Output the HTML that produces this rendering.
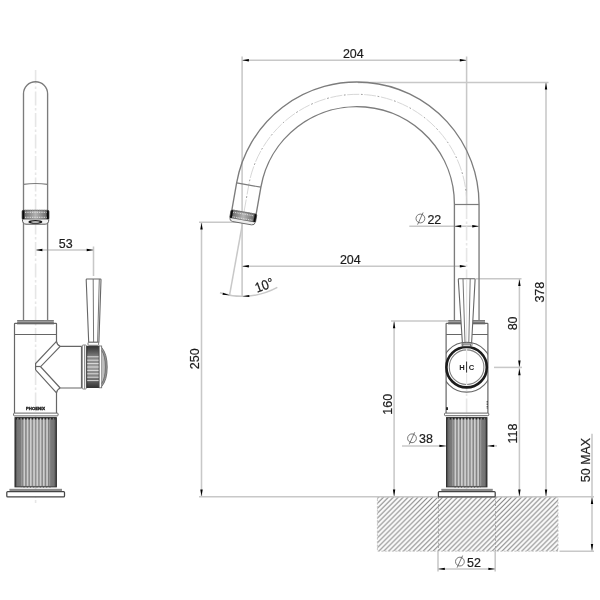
<!DOCTYPE html>
<html><head><meta charset="utf-8"><title>Mixer dimensions</title>
<style>
html,body{margin:0;padding:0;background:#fff;}
body{width:600px;height:600px;overflow:hidden;font-family:"Liberation Sans",sans-serif;}
svg{display:block;will-change:transform;filter:grayscale(1);}
svg text{font-family:"Liberation Sans",sans-serif;opacity:0.99;}
</style></head><body>
<svg width="600" height="600" viewBox="0 0 600 600">
<rect width="600" height="600" fill="#fff"/>
<g>
<line x1="35.60" y1="250.00" x2="93.50" y2="250.00" stroke="#c8c8c8" stroke-width="1.55" />
<line x1="93.50" y1="246.50" x2="93.50" y2="276.00" stroke="#c8c8c8" stroke-width="1.55" />
<polygon points="35.60,250.00 42.40,248.80 42.40,251.20" fill="#000"/>
<polygon points="93.50,250.00 86.70,248.80 86.70,251.20" fill="#000"/>
<text x="0" y="0" font-size="13.7" text-anchor="middle" font-weight="normal" fill="#1a1a1a" transform="translate(65.70 248.00) scale(0.91 1)" stroke="#1a1a1a" stroke-width="0.22">53</text>
<line x1="242.10" y1="60.20" x2="466.60" y2="60.20" stroke="#c8c8c8" stroke-width="1.55" />
<line x1="242.10" y1="56.50" x2="242.10" y2="296.80" stroke="#c8c8c8" stroke-width="1.55" />
<line x1="466.60" y1="56.50" x2="466.60" y2="205.00" stroke="#c8c8c8" stroke-width="1.55" />
<polygon points="242.10,60.20 248.90,59.00 248.90,61.40" fill="#000"/>
<polygon points="466.60,60.20 459.80,59.00 459.80,61.40" fill="#000"/>
<text x="0" y="0" font-size="13.7" text-anchor="middle" font-weight="normal" fill="#1a1a1a" transform="translate(353.30 58.00) scale(0.91 1)" stroke="#1a1a1a" stroke-width="0.22">204</text>
<line x1="242.10" y1="266.20" x2="466.60" y2="266.20" stroke="#c8c8c8" stroke-width="1.55" />
<polygon points="242.10,266.20 248.90,265.00 248.90,267.40" fill="#000"/>
<polygon points="466.60,266.20 459.80,265.00 459.80,267.40" fill="#000"/>
<text x="0" y="0" font-size="13.7" text-anchor="middle" font-weight="normal" fill="#1a1a1a" transform="translate(350.30 264.20) scale(0.91 1)" stroke="#1a1a1a" stroke-width="0.22">204</text>
<line x1="358.00" y1="82.40" x2="548.50" y2="82.40" stroke="#c8c8c8" stroke-width="1.55" />
<line x1="546.00" y1="82.40" x2="546.00" y2="496.80" stroke="#c8c8c8" stroke-width="1.55" />
<polygon points="546.00,82.80 544.80,89.60 547.20,89.60" fill="#000"/>
<polygon points="546.00,496.30 544.80,489.50 547.20,489.50" fill="#000"/>
<text x="0" y="0" font-size="13.7" text-anchor="middle" font-weight="normal" fill="#1a1a1a" transform="translate(543.70 292.20) rotate(-90) scale(0.91 1)" stroke="#1a1a1a" stroke-width="0.22">378</text>
<line x1="199.00" y1="222.30" x2="242.10" y2="222.30" stroke="#c8c8c8" stroke-width="1.55" />
<line x1="201.50" y1="222.30" x2="201.50" y2="496.80" stroke="#c8c8c8" stroke-width="1.55" />
<polygon points="201.50,222.80 200.30,229.60 202.70,229.60" fill="#000"/>
<polygon points="201.50,496.30 200.30,489.50 202.70,489.50" fill="#000"/>
<text x="0" y="0" font-size="13.7" text-anchor="middle" font-weight="normal" fill="#1a1a1a" transform="translate(199.20 358.80) rotate(-90) scale(0.91 1)" stroke="#1a1a1a" stroke-width="0.22">250</text>
<line x1="242.50" y1="223.30" x2="229.57" y2="295.15" stroke="#c8c8c8" stroke-width="1.5"/>
<path d="M219.94,292.73 A73,73 0 0 0 277.33,287.45" stroke="#c8c8c8" stroke-width="1.5" fill="none" />
<polygon points="0,0 -7,-1.05 -7,1.05" fill="#000" transform="translate(229.57 295.15) rotate(12)"/>
<polygon points="0,0 6.8,-1.05 6.8,1.05" fill="#000" transform="translate(242.50 296.30) rotate(-3)"/>
<text x="0" y="0" font-size="13.7" text-anchor="middle" font-weight="normal" fill="#1a1a1a" transform="translate(265.90 289.60) rotate(-20) scale(0.91 1)" stroke="#1a1a1a" stroke-width="0.22">10°</text>
<line x1="409.30" y1="226.20" x2="479.05" y2="226.20" stroke="#c8c8c8" stroke-width="1.55" />
<polygon points="454.41,226.20 461.21,225.00 461.21,227.40" fill="#000"/>
<polygon points="479.05,226.20 472.25,225.00 472.25,227.40" fill="#000"/>
<circle cx="420.40" cy="218.50" r="4.4" stroke="#555" stroke-width="0.8" fill="none"/>
<line x1="417.60" y1="224.60" x2="423.10" y2="212.50" stroke="#555" stroke-width="0.8"/>
<text x="0" y="0" font-size="13.7" text-anchor="middle" font-weight="normal" fill="#1a1a1a" transform="translate(434.30 223.60) scale(0.91 1)" stroke="#1a1a1a" stroke-width="0.22">22</text>
<line x1="475.80" y1="278.70" x2="521.50" y2="278.70" stroke="#c8c8c8" stroke-width="1.55" />
<line x1="519.40" y1="278.70" x2="519.40" y2="496.80" stroke="#c8c8c8" stroke-width="1.55" />
<polygon points="519.40,279.20 518.20,286.00 520.60,286.00" fill="#000"/>
<polygon points="519.40,367.40 518.20,360.60 520.60,360.60" fill="#000"/>
<polygon points="519.40,368.40 518.20,375.20 520.60,375.20" fill="#000"/>
<polygon points="519.40,496.30 518.20,489.50 520.60,489.50" fill="#000"/>
<line x1="494.00" y1="367.40" x2="522.00" y2="367.40" stroke="#c8c8c8" stroke-width="1.55" />
<text x="0" y="0" font-size="13.7" text-anchor="middle" font-weight="normal" fill="#1a1a1a" transform="translate(517.00 323.40) rotate(-90) scale(0.91 1)" stroke="#1a1a1a" stroke-width="0.22">80</text>
<text x="0" y="0" font-size="13.7" text-anchor="middle" font-weight="normal" fill="#1a1a1a" transform="translate(516.80 433.60) rotate(-90) scale(0.91 1)" stroke="#1a1a1a" stroke-width="0.22">118</text>
<line x1="391.00" y1="321.00" x2="448.30" y2="321.00" stroke="#c8c8c8" stroke-width="1.55" />
<line x1="394.10" y1="321.00" x2="394.10" y2="496.80" stroke="#c8c8c8" stroke-width="1.55" />
<polygon points="394.10,321.50 392.90,328.30 395.30,328.30" fill="#000"/>
<polygon points="394.10,496.30 392.90,489.50 395.30,489.50" fill="#000"/>
<text x="0" y="0" font-size="13.7" text-anchor="middle" font-weight="normal" fill="#1a1a1a" transform="translate(391.80 404.30) rotate(-90) scale(0.91 1)" stroke="#1a1a1a" stroke-width="0.22">160</text>
<line x1="402.00" y1="445.90" x2="446.20" y2="445.90" stroke="#c8c8c8" stroke-width="1.55" />
<line x1="487.40" y1="445.90" x2="497.00" y2="445.90" stroke="#c8c8c8" stroke-width="1.55" />
<polygon points="446.20,445.90 439.40,444.70 439.40,447.10" fill="#000"/>
<polygon points="487.40,445.90 494.20,444.70 494.20,447.10" fill="#000"/>
<line x1="446.2" y1="446.5" x2="487.4" y2="446.5" stroke="#444" stroke-width="1" opacity="0.35"/>
<circle cx="412.00" cy="438.30" r="4.4" stroke="#555" stroke-width="0.8" fill="none"/>
<line x1="409.20" y1="444.40" x2="414.70" y2="432.30" stroke="#555" stroke-width="0.8"/>
<text x="0" y="0" font-size="13.7" text-anchor="middle" font-weight="normal" fill="#1a1a1a" transform="translate(426.00 443.30) scale(0.91 1)" stroke="#1a1a1a" stroke-width="0.22">38</text>
<rect x="377.40" y="497.00" width="180.60" height="54.20" stroke="#bbb" stroke-width="0.8" fill="url(#hatch)" stroke-dasharray="2 1.5"/>
<line x1="199.00" y1="496.80" x2="594.00" y2="496.80" stroke="#c8c8c8" stroke-width="1.55" />
<line x1="559.50" y1="551.20" x2="594.00" y2="551.20" stroke="#c8c8c8" stroke-width="1.55" />
<line x1="438.50" y1="497.00" x2="438.50" y2="551.00" stroke="#999" stroke-width="0.8" stroke-dasharray="2 1.5"/>
<line x1="495.50" y1="497.00" x2="495.50" y2="551.00" stroke="#999" stroke-width="0.8" stroke-dasharray="2 1.5"/>
<line x1="438.00" y1="551.00" x2="438.00" y2="571.50" stroke="#c8c8c8" stroke-width="1.55" />
<line x1="495.20" y1="551.00" x2="495.20" y2="571.50" stroke="#c8c8c8" stroke-width="1.55" />
<line x1="438.00" y1="568.90" x2="495.20" y2="568.90" stroke="#c8c8c8" stroke-width="1.55" />
<polygon points="438.00,568.90 444.80,567.70 444.80,570.10" fill="#000"/>
<polygon points="495.20,568.90 488.40,567.70 488.40,570.10" fill="#000"/>
<circle cx="459.90" cy="561.60" r="4.4" stroke="#555" stroke-width="0.8" fill="none"/>
<line x1="457.10" y1="567.70" x2="462.60" y2="555.60" stroke="#555" stroke-width="0.8"/>
<text x="0" y="0" font-size="13.7" text-anchor="middle" font-weight="normal" fill="#1a1a1a" transform="translate(474.00 566.80) scale(0.91 1)" stroke="#1a1a1a" stroke-width="0.22">52</text>
<line x1="592.00" y1="433.80" x2="592.00" y2="551.20" stroke="#c8c8c8" stroke-width="1.55" />
<polygon points="592.00,497.30 590.80,504.10 593.20,504.10" fill="#000"/>
<polygon points="592.00,550.70 590.80,543.90 593.20,543.90" fill="#000"/>
<text x="0" y="0" font-size="13.7" text-anchor="middle" font-weight="normal" fill="#1a1a1a" transform="translate(589.60 460.00) rotate(-90) scale(0.91 1)" stroke="#1a1a1a" stroke-width="0.22">50 MAX</text>
<defs>
<linearGradient id="aer" x1="0" x2="1" y1="0" y2="0"><stop offset="0" stop-color="#0a0a0a"/><stop offset="0.06" stop-color="#0a0a0a"/><stop offset="0.11" stop-color="#727272"/><stop offset="0.5" stop-color="#b2b2b2"/><stop offset="0.89" stop-color="#727272"/><stop offset="0.94" stop-color="#0a0a0a"/><stop offset="1" stop-color="#0a0a0a"/></linearGradient>
<linearGradient id="kn" x1="0" x2="0" y1="0" y2="1"><stop offset="0" stop-color="#333"/><stop offset="0.12" stop-color="#555"/><stop offset="0.25" stop-color="#808080"/><stop offset="0.5" stop-color="#9c9c9c"/><stop offset="0.75" stop-color="#808080"/><stop offset="0.88" stop-color="#555"/><stop offset="1" stop-color="#333"/></linearGradient>
<linearGradient id="fl" x1="0" x2="1" y1="0" y2="0"><stop offset="0" stop-color="#2a2a2a"/><stop offset="0.03" stop-color="#5a5a5a"/><stop offset="0.06" stop-color="#747474"/><stop offset="0.2" stop-color="#808080"/><stop offset="0.5" stop-color="#909090"/><stop offset="0.8" stop-color="#808080"/><stop offset="0.94" stop-color="#747474"/><stop offset="0.97" stop-color="#5a5a5a"/><stop offset="1" stop-color="#2a2a2a"/></linearGradient>
<pattern id="hatch" patternUnits="userSpaceOnUse" width="4.93" height="4.93" patternTransform="translate(378.75 497)"><path d="M-1,1 L1,-1 M-1,5.93 L5.93,-1 M3.93,5.93 L5.93,3.93" stroke="#808080" stroke-width="1.05"/></pattern>
<clipPath id="bodyclip"><rect x="446.1" y="323" width="41.8" height="90"/></clipPath>
</defs>
<line x1="35.60" y1="70.00" x2="35.60" y2="503.00" stroke="#e6e6e6" stroke-width="1.6" stroke-dasharray="14 2.5 2.5 2.5"/>
<path d="M23.5,320.6 L23.5,93.75 A12.05,12.05 0 0 1 47.6,93.75 L47.6,320.6" stroke="#7c7c7c" stroke-width="1.35" fill="none" />
<path d="M23.5,184.4 Q35.6,182.6 47.6,184.4" stroke="#7c7c7c" stroke-width="1.1" fill="none" />
<rect x="22.10" y="210.30" width="26.90" height="9.10" stroke="#3a3a3a" stroke-width="0.7" fill="url(#aer)" rx="1.2"/>
<line x1="25" y1="210.2" x2="46.5" y2="210.2" stroke="#999" stroke-width="1.1" stroke-dasharray="0.8 0.95"/>
<line x1="25" y1="212.4" x2="46.5" y2="212.4" stroke="#e4e4e4" stroke-width="1.2" stroke-dasharray="0.8 0.95"/>
<line x1="25" y1="217.3" x2="46.5" y2="217.3" stroke="#e4e4e4" stroke-width="1.2" stroke-dasharray="0.8 0.95"/>
<path d="M22.4,219.4 Q22.4,224 26,224.2 L45.2,224.2 Q48.8,224 48.8,219.4" stroke="#444" stroke-width="0.9" fill="#f2f2f2" />
<ellipse cx="35.4" cy="221.9" rx="7" ry="1.9" fill="#1a1a1a"/>
<ellipse cx="35.4" cy="221.9" rx="4.4" ry="0.75" fill="#e8e8e8"/>
<rect x="17.2" y="320.6" width="36.599999999999994" height="2.7999999999999545" fill="#9c9c9c"/>
<line x1="17.20" y1="320.50" x2="53.80" y2="320.50" stroke="#7a7a7a" stroke-width="1" />
<line x1="16.90" y1="323.50" x2="54.10" y2="323.50" stroke="#3a3a3a" stroke-width="1.3" />
<path d="M14.5,413 L14.5,324 Q14.5,323.4 15.1,323.4 L55.9,323.4 Q56.5,323.4 56.5,324 L56.5,341.4 Q57,344.8 60.2,346.4 L81.7,346.4" stroke="#666666" stroke-width="1.2" fill="none" />
<path d="M81.7,388 L60.2,388 Q57,389.6 56.5,392.8 L56.5,413" stroke="#666666" stroke-width="1.2" fill="none" />
<line x1="14.50" y1="334.50" x2="56.50" y2="334.50" stroke="#666666" stroke-width="1.2" />
<path d="M56.5,341.4 L35.6,363.6 L35.6,369.8 L56.5,392.8" stroke="#666666" stroke-width="1.2" fill="none" />
<path d="M60.2,346.4 L40.6,366.7 L60.2,388" stroke="#666666" stroke-width="1.2" fill="none" />
<line x1="35.60" y1="366.50" x2="40.60" y2="366.50" stroke="#666666" stroke-width="1.2" />
<line x1="81.50" y1="346.40" x2="81.50" y2="388.00" stroke="#666666" stroke-width="1.2" />
<rect x="82.30" y="345.00" width="4.00" height="44.00" stroke="#666666" stroke-width="0.8" fill="#fff" rx="0.8"/>
<line x1="84.50" y1="345.30" x2="84.50" y2="388.70" stroke="#666666" stroke-width="0.7" />
<rect x="86.80" y="346.20" width="12.40" height="41.40" stroke="#222" stroke-width="0.8" fill="url(#kn)" />
<line x1="87.2" y1="356.80" x2="98.8" y2="356.80" stroke="#f4f4f4" stroke-width="0.8"/>
<line x1="87.2" y1="360.20" x2="98.8" y2="360.20" stroke="#f4f4f4" stroke-width="0.8"/>
<line x1="87.2" y1="363.60" x2="98.8" y2="363.60" stroke="#f4f4f4" stroke-width="0.8"/>
<line x1="87.2" y1="367.00" x2="98.8" y2="367.00" stroke="#f4f4f4" stroke-width="0.8"/>
<line x1="87.2" y1="370.40" x2="98.8" y2="370.40" stroke="#f4f4f4" stroke-width="0.8"/>
<line x1="87.2" y1="373.80" x2="98.8" y2="373.80" stroke="#f4f4f4" stroke-width="0.8"/>
<line x1="87.2" y1="377.20" x2="98.8" y2="377.20" stroke="#f4f4f4" stroke-width="0.8"/>
<line x1="87.2" y1="380.60" x2="98.8" y2="380.60" stroke="#f4f4f4" stroke-width="0.8"/>
<rect x="99.20" y="346.00" width="2.50" height="41.80" stroke="#666666" stroke-width="0.8" fill="#fff" />
<path d="M101.7,347.5 Q107.2,354 107.2,367 Q107.2,380 101.7,386.5" stroke="#666666" stroke-width="0.9" fill="#9a9a9a" />
<path d="M101.7,350.5 Q105.4,356 105.4,367 Q105.4,378 101.7,383.5" stroke="#555" stroke-width="0.7" fill="#bdbdbd" />
<path d="M86.2,279.7 Q86.2,279 86.9,279 L100.3,279 Q101,279 101,279.7 L98.9,342.3 L88.7,342.3 Z" stroke="#666666" stroke-width="1.1" fill="#fff" />
<line x1="93.20" y1="279.00" x2="93.60" y2="342.30" stroke="#666666" stroke-width="0.9" />
<line x1="99.30" y1="279.00" x2="97.60" y2="342.30" stroke="#666666" stroke-width="0.9" />
<rect x="88.00" y="342.30" width="10.60" height="3.00" stroke="#666666" stroke-width="0.9" fill="#fff" rx="0.8"/>
<text x="0" y="0" font-size="3.9" text-anchor="middle" font-weight="bold" fill="#1a1a1a" transform="translate(35.60 410.10) scale(1.1 1)" stroke="#111" stroke-width="0.3">PHOENIX</text>
<rect x="13.60" y="413.10" width="44.50" height="2.80" stroke="#666666" stroke-width="1" fill="#fff" rx="0.9"/>
<rect x="14.95" y="417.60" width="41.45" height="69.30" stroke="#2a2a2a" stroke-width="0.9" fill="url(#fl)" />
<rect x="23.45" y="418.80" width="1.7" height="67.10" fill="#cdcdcd"/>
<rect x="26.70" y="418.80" width="1.7" height="67.10" fill="#cdcdcd"/>
<rect x="29.95" y="418.80" width="1.7" height="67.10" fill="#cdcdcd"/>
<rect x="33.20" y="418.80" width="1.7" height="67.10" fill="#cdcdcd"/>
<rect x="36.45" y="418.80" width="1.7" height="67.10" fill="#cdcdcd"/>
<rect x="39.70" y="418.80" width="1.7" height="67.10" fill="#cdcdcd"/>
<rect x="42.95" y="418.80" width="1.7" height="67.10" fill="#cdcdcd"/>
<rect x="46.20" y="418.80" width="1.7" height="67.10" fill="#cdcdcd"/>
<rect x="21.12" y="418.80" width="1.2" height="67.10" fill="#cdcdcd" opacity="0.35"/>
<rect x="49.02" y="418.80" width="1.2" height="67.10" fill="#cdcdcd" opacity="0.35"/>
<line x1="15.95" y1="418.60" x2="55.40" y2="418.60" stroke="#222" stroke-width="1.6" stroke-dasharray="1.6 1.65" stroke-dashoffset="0.58"/>
<line x1="20.95" y1="487.20" x2="50.40" y2="487.20" stroke="#555" stroke-width="1.2" stroke-dasharray="0.8 2.45" stroke-dashoffset="0.58"/>
<rect x="9.5" y="489.2" width="52.5" height="2.3" fill="#8e8e8e"/>
<line x1="9.5" y1="489.3" x2="62" y2="489.3" stroke="#777" stroke-width="0.8"/>
<rect x="6.8" y="491.5" width="57.7" height="5.3" rx="0.9" fill="#fff" stroke="#444" stroke-width="1.25"/>
<line x1="466.60" y1="205.00" x2="466.60" y2="497.00" stroke="#e6e6e6" stroke-width="1.6" stroke-dasharray="14 2.5 2.5 2.5"/>
<path d="M466.73,204.14 A109.82,109.82 0 0 0 248.76,185.07 L241.81,224.46" stroke="#d2d2d2" stroke-width="0.9" fill="none" stroke-dasharray="12 5"/>
<path d="M466.73,204.14 A109.82,109.82 0 0 0 248.76,185.07 L241.81,224.46" stroke="#8e8e8e" stroke-width="1" fill="none" stroke-dasharray="1.6 15.4" stroke-dashoffset="-13.7"/>
<path d="M479.05,320.6 L479.05,204.14 A122.14,122.14 0 0 0 236.63,182.93 L231.88,209.82" stroke="#7c7c7c" stroke-width="1.35" fill="none" />
<path d="M454.41,320.6 L454.41,204.14 A97.50,97.50 0 0 0 260.89,187.21 L256.15,214.09" stroke="#7c7c7c" stroke-width="1.35" fill="none" />
<line x1="454.41" y1="204.50" x2="479.05" y2="204.50" stroke="#7c7c7c" stroke-width="1.2" />
<line x1="236.63" y1="182.93" x2="260.89" y2="187.21" stroke="#7c7c7c" stroke-width="1.2" />
<g transform="translate(244.02 211.96) rotate(10)">
<rect x="-13.1" y="0.1" width="26.2" height="8.4" rx="1.2" fill="url(#aer)" stroke="#3a3a3a" stroke-width="0.7"/>
<line x1="-10.5" y1="0" x2="10.5" y2="0" stroke="#999" stroke-width="1.1" stroke-dasharray="0.8 0.95"/>
<line x1="-10.5" y1="2.1" x2="10.5" y2="2.1" stroke="#e4e4e4" stroke-width="1.1" stroke-dasharray="0.8 0.95"/>
<line x1="-10.5" y1="6.7" x2="10.5" y2="6.7" stroke="#e4e4e4" stroke-width="1.1" stroke-dasharray="0.8 0.95"/>
<path d="M-12.8,8.5 Q-12.8,11.2 -9.6,11.4 L9.6,11.4 Q12.8,11.2 12.8,8.5" fill="#eee" stroke="#555" stroke-width="0.8"/>
</g>
<rect x="448.3" y="320.6" width="36.69999999999999" height="2.7999999999999545" fill="#9c9c9c"/>
<line x1="448.30" y1="320.50" x2="485.00" y2="320.50" stroke="#7a7a7a" stroke-width="1" />
<line x1="448.00" y1="323.50" x2="485.30" y2="323.50" stroke="#3a3a3a" stroke-width="1.3" />
<path d="M446.1,413 L446.1,324 Q446.1,323.4 446.7,323.4 L487.3,323.4 Q487.9,323.4 487.9,324 L487.9,413" stroke="#666666" stroke-width="1.2" fill="none" />
<line x1="446.10" y1="334.50" x2="487.90" y2="334.50" stroke="#666666" stroke-width="1.2" />
<path d="M458.3,279.5 Q458.3,278.8 459,278.8 L474.4,278.8 Q475.1,278.8 475.1,279.5 L471.6,343 L462.4,343 Z" stroke="#666666" stroke-width="1.1" fill="#fff" />
<line x1="463.00" y1="278.80" x2="465.00" y2="343.00" stroke="#666666" stroke-width="0.9" />
<line x1="470.20" y1="278.80" x2="468.80" y2="343.00" stroke="#666666" stroke-width="0.9" />
<line x1="466.6" y1="280" x2="466.6" y2="343" stroke="#e6e6e6" stroke-width="1.2"/>
<rect x="462.00" y="343.00" width="10.00" height="3.00" stroke="#666666" stroke-width="0.9" fill="#fff" rx="0.8"/>
<circle cx="466.6" cy="367.2" r="24.9" stroke="#666666" stroke-width="1.1" fill="none" clip-path="url(#bodyclip)"/>
<circle cx="466.6" cy="367.2" r="20.2" stroke="#1c1c1c" stroke-width="2.6" fill="#fff"/>
<circle cx="466.6" cy="367.2" r="17.3" stroke="#808080" stroke-width="1.1" fill="none"/>
<rect x="462.80" y="344.20" width="7.70" height="1.90" stroke="#555" stroke-width="0.8" fill="#fff" />
<line x1="466.6" y1="361.5" x2="466.6" y2="372.6" stroke="#2a2a2a" stroke-width="1"/>
<line x1="466.6" y1="349" x2="466.6" y2="360.5" stroke="#e6e6e6" stroke-width="1.2"/>
<line x1="466.6" y1="373.6" x2="466.6" y2="385.5" stroke="#e6e6e6" stroke-width="1.2"/>
<text x="0" y="0" font-size="7.6" text-anchor="middle" font-weight="bold" fill="#1a1a1a" transform="translate(462.00 370.10) scale(1 1)" >H</text>
<text x="0" y="0" font-size="7.6" text-anchor="middle" font-weight="bold" fill="#1a1a1a" transform="translate(471.60 370.10) scale(1 1)" >C</text>
<rect x="446.2" y="407.2" width="1.7" height="2.8" fill="#111"/>
<line x1="487.2" y1="401" x2="487.2" y2="409" stroke="#222" stroke-width="0.9" stroke-dasharray="1.5 1"/>
<rect x="444.50" y="413.10" width="44.30" height="2.60" stroke="#666666" stroke-width="1" fill="#fff" rx="0.9"/>
<rect x="446.45" y="417.60" width="40.55" height="69.30" stroke="#2a2a2a" stroke-width="0.9" fill="url(#fl)" />
<rect x="454.50" y="418.80" width="1.7" height="67.10" fill="#cdcdcd"/>
<rect x="457.75" y="418.80" width="1.7" height="67.10" fill="#cdcdcd"/>
<rect x="461.00" y="418.80" width="1.7" height="67.10" fill="#cdcdcd"/>
<rect x="464.25" y="418.80" width="1.7" height="67.10" fill="#cdcdcd"/>
<rect x="467.50" y="418.80" width="1.7" height="67.10" fill="#cdcdcd"/>
<rect x="470.75" y="418.80" width="1.7" height="67.10" fill="#cdcdcd"/>
<rect x="474.00" y="418.80" width="1.7" height="67.10" fill="#cdcdcd"/>
<rect x="477.25" y="418.80" width="1.7" height="67.10" fill="#cdcdcd"/>
<rect x="452.18" y="418.80" width="1.2" height="67.10" fill="#cdcdcd" opacity="0.35"/>
<rect x="480.07" y="418.80" width="1.2" height="67.10" fill="#cdcdcd" opacity="0.35"/>
<line x1="447.45" y1="418.60" x2="486.00" y2="418.60" stroke="#222" stroke-width="1.6" stroke-dasharray="1.6 1.65" stroke-dashoffset="-2.23"/>
<line x1="452.45" y1="487.20" x2="481.00" y2="487.20" stroke="#555" stroke-width="1.2" stroke-dasharray="0.8 2.45" stroke-dashoffset="-2.23"/>
<rect x="441.4" y="489.2" width="51.30000000000001" height="2.3" fill="#8e8e8e"/>
<line x1="441.4" y1="489.3" x2="492.7" y2="489.3" stroke="#777" stroke-width="0.8"/>
<rect x="438.4" y="491.5" width="56.80000000000001" height="5.3" rx="0.9" fill="#fff" stroke="#444" stroke-width="1.25"/>
</g>
</svg>
</body></html>
